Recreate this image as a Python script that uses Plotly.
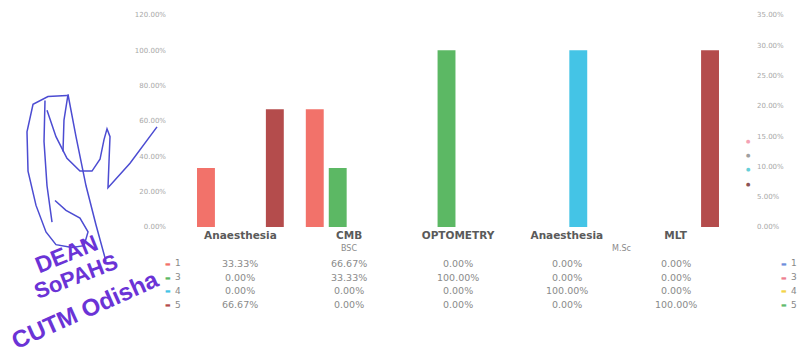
import plotly.graph_objects as go

# ---------------- data ----------------
categories = ["Anaesthesia", "CMB", "OPTOMETRY", "Anaesthesia", "MLT"]
groups = ["BSC", "M.Sc"]
group_centers = [1, 3.5]
series_names = ["1", "3", "4", "5"]
series_1 = [0.3333, 0.6667, 0.0, 0.0, 0.0]
series_3 = [0.0, 0.3333, 1.0, 0.0, 0.0]
series_4 = [0.0, 0.0, 0.0, 1.0, 0.0]
series_5 = [0.6667, 0.0, 0.0, 0.0, 1.0]
left_ticks = [0, 0.2, 0.4, 0.6, 0.8, 1.0, 1.2]
right_ticks = [0, 0.05, 0.10, 0.15, 0.20, 0.25, 0.30, 0.35]
right_legend_names = ["1", "3", "4", "5"]

series_values = [series_1, series_3, series_4, series_5]
series_colors = ["#f2726a", "#5cb864", "#44c4e6", "#b44c4c"]
right_legend_colors = ["#6f8fdc", "#ee8090", "#f3d44a", "#62bb6e"]

# ---------------- geometry helpers (pixel -> paper) ----------------
W, H = 801, 360
L, R, T, B = 186, 730, 11, 227


def pxx(x):
    return (x - L) / (R - L)


def pxy(y):
    return (B - y) / (B - T)


def ann(x, y, text, size, color, xref="paper", xanchor="center", family="DejaVu Sans", **kw):
    return dict(x=x, xref=xref, y=pxy(y), yref="paper", text=text, showarrow=False,
                xanchor=xanchor, yanchor="middle", font=dict(size=size, color=color, family=family), **kw)


fig = go.Figure()
x_idx = list(range(len(categories)))
for name, vals, col in zip(series_names, series_values, series_colors):
    fig.add_trace(go.Bar(x=x_idx, y=vals, name=name, marker=dict(color=col, line=dict(width=0)),
                         showlegend=False, hoverinfo="skip"))

# invisible trace on secondary axis so it renders
fig.add_trace(go.Scatter(x=[None], y=[None], yaxis="y2", showlegend=False, hoverinfo="skip"))

annotations = []
# second-level category labels
for g, c in zip(groups, group_centers):
    annotations.append(ann(c, 249, g, 8, "#8a8a8a", xref="x"))

# data table rows
row_y = [264, 278, 292, 306]
for r, (name, vals, col) in enumerate(zip(series_names, series_values, series_colors)):
    yy = row_y[r]
    annotations.append(ann(pxx(168), yy, "\u25ac", 6, col))
    annotations.append(ann(pxx(173), yy, name, 9, "#888", xanchor="left"))
    for i, v in enumerate(vals):
        annotations.append(ann(i, yy, f"{v * 100:.2f}%", 9.5, "#8a8a8a", xref="x"))

# right-hand spurious legend
for r, (name, col) in enumerate(zip(right_legend_names, right_legend_colors)):
    yy = row_y[r]
    annotations.append(ann(pxx(784), yy, "\u25ac", 6, col))
    annotations.append(ann(pxx(789), yy, name, 9, "#888", xanchor="left"))

# tiny dots near right axis
for yy, col in zip([139, 154, 168, 183], ["#f4a2b4", "#a0a0a0", "#66cfd8", "#8c5454"]):
    annotations.append(ann(pxx(748), yy, "\u25cf", 5, col))

# stamp text
stamp_col = "#6b33d6"
for txt, cx, cy, ang, sz in [("DEAN", 66, 255, -22, 23), ("SoPAHS", 76, 277, -21, 22),
                             ("CUTM Odisha", 85, 311, -24, 24)]:
    annotations.append(ann(pxx(cx), cy, f"<b>{txt}</b>", sz, stamp_col, family="Liberation Sans",
                           textangle=ang))

# signature strokes
strokes = [
    [(67, 93), (48, 94), (33, 102), (27, 130), (28, 170), (36, 205), (46, 232), (56, 245), (72, 248),
     (84, 246), (88, 232), (80, 218), (66, 210), (55, 200)],
    [(45, 98), (44, 140), (47, 185), (52, 222)],
    [(47, 108), (56, 135), (67, 157), (80, 170), (92, 170), (100, 158), (104, 138), (107, 127),
     (110, 135), (109, 160), (108, 187), (130, 162), (157, 125)],
    [(68, 92), (76, 135), (86, 185), (96, 225), (106, 262)],
    [(68, 92), (64, 118), (63, 150)],
]
shapes = []
for st in strokes:
    path = "M " + " L ".join(f"{pxx(x):.4f},{pxy(y):.4f}" for x, y in st)
    shapes.append(dict(type="path", xref="paper", yref="paper", path=path,
                       line=dict(color="#4c4cd2", width=1.5)))

fig.update_layout(
    width=W, height=H, autosize=False,
    margin=dict(l=L, r=W - R, t=T, b=H - B, pad=0),
    paper_bgcolor="white", plot_bgcolor="white",
    barmode="group", bargap=0.156, bargroupgap=0.22,
    xaxis=dict(range=[-0.5, 4.5], tickvals=x_idx, ticktext=[f"<b>{c}</b>" for c in categories],
               tickfont=dict(size=10.5, color="#5a5a5a", family="DejaVu Sans"), ticks="",
               showgrid=False, zeroline=False, showline=False),
    yaxis=dict(range=[0, 1.2001], tickvals=left_ticks, tickformat=".2%", showgrid=False, zeroline=False,
               showline=False, ticks="", ticklabelstandoff=19,
               tickfont=dict(size=7, color="#a8a8a8", family="DejaVu Sans")),
    yaxis2=dict(range=[0, 0.35001], tickvals=right_ticks, tickformat=".2%", overlaying="y", side="right",
                showgrid=False, zeroline=False, showline=False, ticks="", ticklabelstandoff=26,
                tickfont=dict(size=7, color="#a8a8a8", family="DejaVu Sans")),
    annotations=annotations,
    shapes=shapes,
    showlegend=False,
)

fig.write_html("out.html", config={"displayModeBar": False},
               post_script="document.body.style.margin='0';")
